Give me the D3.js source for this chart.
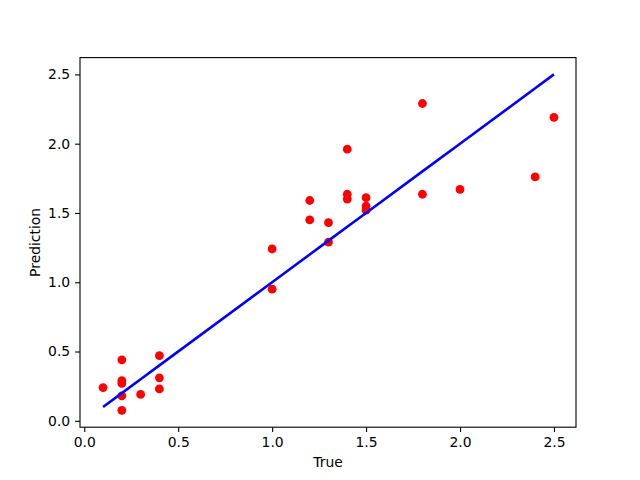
<!DOCTYPE html>
<html><head><meta charset="utf-8">
<script src="https://cdn.jsdelivr.net/npm/d3@7"></script>
<style>body{margin:0;background:#fff}svg{display:block}text{font-family:"DejaVu Sans",sans-serif}</style>
</head><body>
<svg id="c" width="640" height="480"></svg>
<script>
const trueVals = [0.1,0.2,0.2,0.2,0.2,0.2,0.3,0.4,0.4,0.4,1.0,1.0,1.2,1.2,1.3,1.3,1.4,1.4,1.4,1.5,1.5,1.5,1.8,1.8,2.0,2.4,2.5];
const predVals = [0.24,0.44,0.29,0.27,0.18,0.075,0.19,0.47,0.31,0.23,1.24,0.95,1.59,1.45,1.43,1.29,1.96,1.635,1.60,1.61,1.55,1.52,2.29,1.635,1.67,1.76,2.19];
const xTicks = [0.0,0.5,1.0,1.5,2.0,2.5];
const yTicks = [0.0,0.5,1.0,1.5,2.0,2.5];

const svg = d3.select("#c");
const L=80,R=576,T=57.6,B=427.2;
const xmin=d3.min(trueVals), xmax=d3.max(trueVals);
const ymin=Math.min(d3.min(predVals),xmin), ymax=Math.max(d3.max(predVals),xmax);
const xm=(xmax-xmin)*0.05, ym=(ymax-ymin)*0.05;
const x=d3.scaleLinear().domain([xmin-xm,xmax+xm]).range([L+0.5,R+0.5]);
const y=d3.scaleLinear().domain([ymin-ym,ymax+ym]).range([B,T]);

const pts = trueVals.map((v,i)=>({t:v,p:predVals[i]}));
svg.append("g").selectAll("circle").data(pts).join("circle")
  .attr("cx",d=>x(d.t)).attr("cy",d=>y(d.p)).attr("r",4.4).attr("fill","#ff0000");

const sorted=[...trueVals].sort((a,b)=>a-b);
svg.append("path").datum(sorted)
  .attr("d",d3.line().x(d=>x(d)).y(d=>y(d)))
  .attr("fill","none").attr("stroke","#0000ff").attr("stroke-width",2.6);

const fmt=d3.format(".1f");
const xa=svg.append("g").attr("transform",`translate(0,${B})`)
  .call(d3.axisBottom(x).tickValues(xTicks).tickFormat(fmt).tickSizeOuter(0).tickSize(4.9).tickPadding(4.9));
const ya=svg.append("g").attr("transform",`translate(${L},0)`)
  .call(d3.axisLeft(y).tickValues(yTicks).tickFormat(fmt).tickSizeOuter(0).tickSize(4.9).tickPadding(4.9));
[xa,ya].forEach(a=>{a.select(".domain").remove();a.selectAll("text").attr("font-size",13.9).attr("fill","#000").attr("font-family","DejaVu Sans");a.selectAll("line").attr("stroke","#000").attr("stroke-width",1.1);});

svg.append("rect").attr("x",L).attr("y",T).attr("width",R-L).attr("height",B-T)
  .attr("fill","none").attr("stroke","#000").attr("stroke-width",1.1);

svg.append("text").attr("x",(L+R)/2).attr("y",467).attr("text-anchor","middle").attr("font-size",13.9).text("True");
svg.append("text").attr("transform",`translate(40,${(T+B)/2}) rotate(-90)`).attr("text-anchor","middle").attr("font-size",13.9).text("Prediction");
</script>
</body></html>
